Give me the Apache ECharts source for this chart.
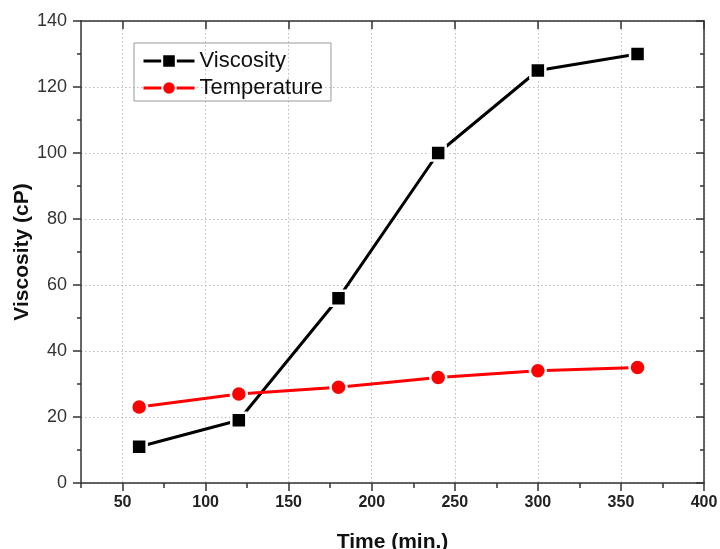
<!DOCTYPE html>
<html>
<head>
<meta charset="utf-8">
<script src="https://cdn.jsdelivr.net/npm/echarts@6/dist/echarts.min.js"></script>
<style>
  html, body { margin: 0; padding: 0; background: #fff; }
  #chart { width: 720px; height: 549px; }
</style>
</head>
<body>
<div id="chart"></div>
<script>
// Sampling times (min.)
const times = [60, 120, 180, 240, 300, 360];
// Measured viscosity (cP) and temperature at each time
const viscosity = [11, 19, 56, 100, 125, 130];
const temperature = [23, 27, 29, 32, 34, 35];
// Labelled tick values
const xMajorTicks = [50, 100, 150, 200, 250, 300, 350, 400];
const yMajorTicks = [0, 20, 40, 60, 80, 100, 120, 140];

const FONT = '"Liberation Sans", Arial, sans-serif';
const AXIS_COLOR = '#333';

function pairs(xs, ys) { return xs.map((x, i) => [x, ys[i]]); }

const baseLine = { show: true, onZero: false, lineStyle: { color: AXIS_COLOR, width: 1.5 } };
const hiddenLine = { show: false };
const dotted = { show: true, lineStyle: { color: '#bbb', type: [1.5, 2.5], width: 1 } };

// x axis: labelled ticks every 50, unlabelled minor ticks every 25
function xAx(pos, ticks, major) {
  return {
    type: 'value', position: pos, min: 25, max: 400,
    interval: 25,
    axisLine: major ? baseLine : hiddenLine,
    axisTick: Object.assign({
      show: true, inside: pos === 'top', length: major ? 8 : 5,
      lineStyle: { color: AXIS_COLOR, width: 1.5 }
    }, major ? { customValues: ticks } : {}),
    axisLabel: (major && pos === 'bottom') ? {
      show: true, customValues: ticks, margin: 12,
      color: '#222', fontFamily: FONT, fontWeight: 'bold', fontSize: 16
    } : { show: false },
    splitLine: (major && pos === 'bottom') ? dotted : { show: false }
  };
}

// y axis: labelled ticks every 20, minor ticks every 10
function yAx(pos, major) {
  return {
    type: 'value', position: pos, min: 0, max: 140,
    interval: major ? 20 : 10,
    axisLine: major ? baseLine : hiddenLine,
    axisTick: {
      show: true, inside: pos === 'right', length: major ? 8 : 4,
      lineStyle: { color: AXIS_COLOR, width: 1.5 }
    },
    axisLabel: (major && pos === 'left') ? {
      show: true, margin: 14, color: '#333', fontFamily: FONT, fontSize: 18,
      customValues: yMajorTicks
    } : { show: false },
    splitLine: (major && pos === 'left') ? dotted : { show: false }
  };
}

const xAxes = [
  xAx('bottom', xMajorTicks, true),
  xAx('bottom', null, false),
  xAx('top', xMajorTicks, true),
  xAx('top', null, false)
];
Object.assign(xAxes[0], {
  name: 'Time (min.)', nameLocation: 'middle', nameGap: 49, nameMoveOverlap: false,
  nameTextStyle: { fontFamily: FONT, fontWeight: 'bold', fontSize: 21, color: '#111' }
});

const yAxes = [yAx('left', true), yAx('left', false), yAx('right', true), yAx('right', false)];
Object.assign(yAxes[0], {
  name: 'Viscosity (cP)', nameLocation: 'middle', nameGap: 48, nameMoveOverlap: false,
  nameTextStyle: { fontFamily: FONT, fontWeight: 'bold', fontSize: 21, color: '#111' }
});

const chart = echarts.init(document.getElementById('chart'), null, { renderer: 'canvas' });
chart.setOption({
  animation: false,
  backgroundColor: '#fff',
  grid: {
    left: 81, right: 16, top: 21, bottom: 66,
    containLabel: false, outerBoundsMode: 'none'
  },
  xAxis: xAxes,
  yAxis: yAxes,
  legend: {
    left: 134, top: 43, orient: 'vertical',
    borderColor: '#999', borderWidth: 1, borderRadius: 0,
    padding: [7, 8, 2, 8], itemGap: 5,
    itemWidth: 51, itemHeight: 17,
    lineStyle: { width: 3 },
    textStyle: { fontFamily: FONT, fontSize: 22, color: '#111' },
    data: ['Viscosity', 'Temperature']
  },
  series: [
    {
      name: 'Viscosity', type: 'line',
      data: pairs(times, viscosity),
      symbol: 'rect', symbolSize: 15,
      itemStyle: { color: '#000', borderColor: '#fff', borderWidth: 2.5 },
      lineStyle: { color: '#000', width: 3 },
      z: 3
    },
    {
      name: 'Temperature', type: 'line',
      data: pairs(times, temperature),
      symbol: 'circle', symbolSize: 16,
      itemStyle: { color: '#f00', borderColor: '#fff', borderWidth: 2.5 },
      lineStyle: { color: '#f00', width: 3 },
      z: 3
    }
  ]
});
</script>
</body>
</html>
